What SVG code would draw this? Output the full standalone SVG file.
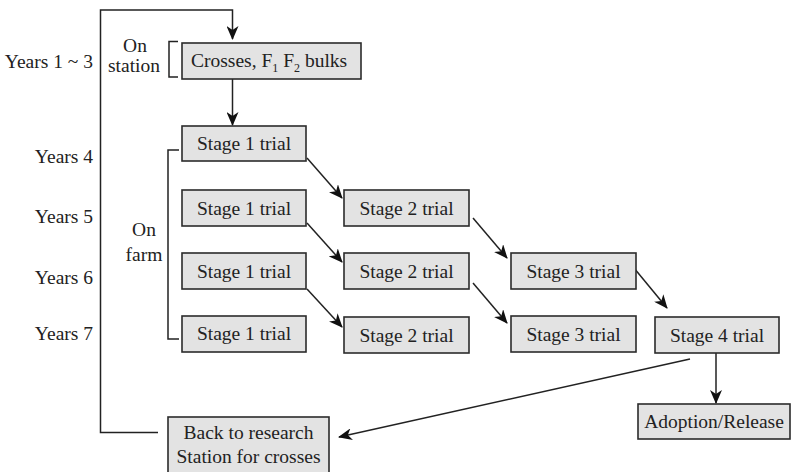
<svg xmlns="http://www.w3.org/2000/svg" width="792" height="472" viewBox="0 0 792 472">
<style>
.box{fill:#e3e3e3;stroke:#2b2b2b;stroke-width:1.6}
.t{font-family:'Liberation Serif','Times New Roman','DejaVu Serif',serif;font-size:19.5px;fill:#222}
.c{text-anchor:middle}
.r{text-anchor:end}
.ln{fill:none;stroke:#222;stroke-width:1.5}
.arr{marker-end:url(#ah)}
</style>
<defs>
<marker id="ah" markerUnits="userSpaceOnUse" markerWidth="14" markerHeight="12" viewBox="0 0 14 12" refX="13" refY="6" orient="auto">
<path d="M0,0 L14,6 L0,12 L4,6 Z" fill="#111"/>
</marker>
</defs>
<rect width="792" height="472" fill="#fff"/>
<g id="labels" font-family="Liberation Serif, serif">
<text class="t r" x="93" y="68">Years 1 ~ 3</text>
<text class="t r" x="93" y="163">Years 4</text>
<text class="t r" x="93" y="223">Years 5</text>
<text class="t r" x="93" y="284">Years 6</text>
<text class="t r" x="93" y="340">Years 7</text>
<text class="t c" x="135" y="52">On</text>
<text class="t c" x="134" y="72">station</text>
<text class="t c" x="144" y="236">On</text>
<text class="t c" x="144" y="261">farm</text>
</g>
<g id="brackets">
<path class="ln" d="M178,41.5 H169 V77 H178"/>
<path class="ln" d="M179,150 H168 V339 H179"/>
</g>
<g id="connectors">
<path class="ln arr" d="M158,432.5 H100.5 V10 H232.5 V39"/>
<path class="ln arr" d="M232.5,79 V125"/>
<path class="ln arr" d="M307,158 L342,198"/>
<path class="ln arr" d="M307,223 L342,262"/>
<path class="ln arr" d="M307,289 L342,327"/>
<path class="ln arr" d="M473,218 L507,258"/>
<path class="ln arr" d="M473,283 L507,323"/>
<path class="ln arr" d="M634,268 L667,308"/>
<path class="ln arr" d="M716,353 V403"/>
<path class="ln arr" d="M690,359 L339,437"/>
</g>
<g id="crosses">
<rect class="box" x="182" y="43" width="179" height="36"/>
<text class="t" x="191" y="67">Crosses, F<tspan font-size="12" dy="5">1</tspan><tspan dy="-5"> F</tspan><tspan font-size="12" dy="5">2</tspan><tspan dy="-5"> bulks</tspan></text>
</g>
<g id="s1a"><rect class="box" x="182" y="126" width="124" height="35"/><text class="t c" x="244" y="150">Stage 1 trial</text></g>
<g id="s1b"><rect class="box" x="182" y="190" width="124" height="36"/><text class="t c" x="244" y="215">Stage 1 trial</text></g>
<g id="s1c"><rect class="box" x="182" y="253" width="124" height="36"/><text class="t c" x="244" y="278">Stage 1 trial</text></g>
<g id="s1d"><rect class="box" x="182" y="316" width="124" height="36"/><text class="t c" x="244" y="340">Stage 1 trial</text></g>
<g id="s2a"><rect class="box" x="344" y="190" width="125" height="36"/><text class="t c" x="406.5" y="215">Stage 2 trial</text></g>
<g id="s2b"><rect class="box" x="344" y="253" width="125" height="36"/><text class="t c" x="406.5" y="278">Stage 2 trial</text></g>
<g id="s2c"><rect class="box" x="344" y="317" width="125" height="36"/><text class="t c" x="406.5" y="342">Stage 2 trial</text></g>
<g id="s3a"><rect class="box" x="511" y="253" width="125" height="36"/><text class="t c" x="573.5" y="278">Stage 3 trial</text></g>
<g id="s3b"><rect class="box" x="511" y="316" width="125" height="36"/><text class="t c" x="573.5" y="341">Stage 3 trial</text></g>
<g id="s4"><rect class="box" x="655" y="317" width="124" height="36"/><text class="t c" x="717" y="342">Stage 4 trial</text></g>
<g id="adoption"><rect class="box" x="638" y="404" width="152" height="35"/><text class="t c" x="714" y="428">Adoption/Release</text></g>
<g id="back"><rect class="box" x="168" y="417" width="161" height="60"/><text class="t c" x="248.5" y="439">Back to research</text><text class="t c" x="248.5" y="463">Station for crosses</text></g>
</svg>
